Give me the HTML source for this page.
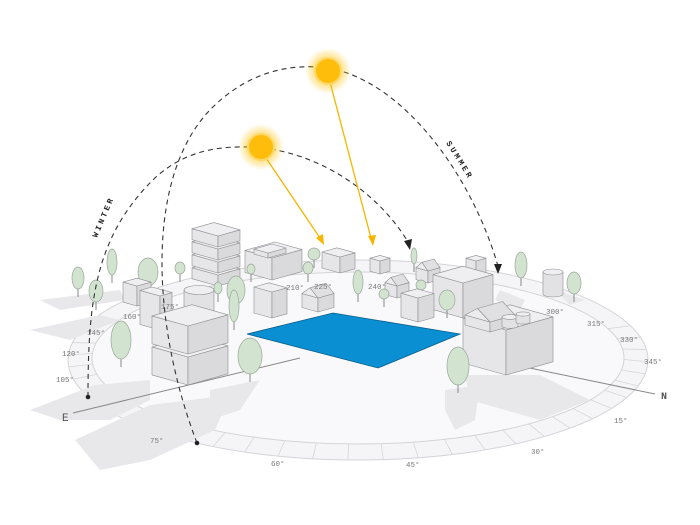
<!DOCTYPE html>
<html><head><meta charset="utf-8"><style>
html,body{margin:0;padding:0;background:#fff;}
svg{display:block;}
text{font-family:"Liberation Mono",monospace;}
</style></head><body>
<svg id="s" width="700" height="525" viewBox="0 0 700 525" xmlns="http://www.w3.org/2000/svg">
<defs>
<radialGradient id="glow"><stop offset="0.55" stop-color="#ffc107" stop-opacity="0.5"/><stop offset="1" stop-color="#ffc107" stop-opacity="0"/></radialGradient>
</defs>
<ellipse cx="358" cy="360" rx="290" ry="100" fill="#f5f5f7" stroke="#d4d4d8" stroke-width="1"/>
<ellipse cx="358" cy="358" rx="266" ry="86" fill="#f9f9fb" stroke="#d4d4d8" stroke-width="1"/>
<g id="ticks" stroke="#d6d6da" stroke-width="0.8"></g>
<g fill="#e8e8eb">
<polygon points="30,410 95,385 150,380 150,400 110,420 60,420"/>
<polygon points="75,440 150,405 230,395 215,430 150,460 100,470"/>
<polygon points="210,390 260,380 240,410 210,420"/>
<polygon points="465,375 540,375 590,400 540,420 470,400"/>
<polygon points="445,390 480,385 475,420 455,430 445,410"/>
<polygon points="40,300 120,290 125,300 60,310"/>
<polygon points="30,330 100,315 120,320 70,340"/>
<polygon points="500,290 525,300 520,310 495,300"/>
<polygon points="555,290 585,300 570,305"/>
</g>
<polyline points="73,413 300,358" fill="none" stroke="#888" stroke-width="1"/>
<polyline points="520,366 655,394" fill="none" stroke="#888" stroke-width="1"/>
<text x="62" y="421" font-size="11" fill="#555">E</text>
<text x="661" y="399" font-size="10" fill="#555" font-weight="bold">N</text>
<polygon points="247,334 333,313 460,334 378,368" fill="#0a8fd2" stroke="#0b5e8a" stroke-width="0.8"/>
<g id="bld"></g>
<g font-size="7.5" fill="#777">
<text x="150" y="443">75°</text><text x="271" y="466">60°</text><text x="406" y="467">45°</text>
<text x="531" y="454">30°</text><text x="614" y="423">15°</text><text x="644" y="364">345°</text>
<text x="620" y="342">330°</text><text x="587" y="326">315°</text><text x="546" y="314">300°</text>
<text x="368" y="289">240°</text><text x="314" y="289">225°</text><text x="286" y="290">210°</text>
<text x="161" y="309">175°</text><text x="123" y="319">160°</text><text x="87" y="335">145°</text>
<text x="62" y="356">120°</text><text x="56" y="382">105°</text>
</g>
<g fill="none" stroke="#333" stroke-width="1.1" stroke-dasharray="5,4">
<path d="M197,443 C150,320 145,170 215,105 C250,72 290,63 328,68 C400,80 470,170 498,266"/>
<path d="M88,397 C88,300 95,235 157,176 C185,152 215,146 250,147 C320,150 380,195 408,242"/>
</g>
<polygon points="498,274 494,264 502,264" fill="#222"/>
<polygon points="410,250 404,241 412,239" fill="#222"/>
<circle cx="88" cy="397" r="2.3" fill="#222"/><circle cx="197" cy="443" r="2.3" fill="#222"/>
<g stroke="#f7b500" stroke-width="1.3" fill="#f7b500">
<line x1="330" y1="82" x2="372" y2="242"/><polygon points="373,246 368,236 376,235" stroke="none"/>
<line x1="266" y1="158" x2="322" y2="241"/><polygon points="324,245 316,238 323,234" stroke="none"/>
</g>
<circle cx="328" cy="71" r="23" fill="url(#glow)"/><circle cx="328" cy="71" r="13" fill="#fdbd0a" stroke="#ffd86a" stroke-width="2"/>
<circle cx="261" cy="147" r="23" fill="url(#glow)"/><circle cx="261" cy="147" r="13" fill="#fdbd0a" stroke="#ffd86a" stroke-width="2"/>
<text font-size="8" font-weight="bold" fill="#222" letter-spacing="2.5" transform="translate(97,238) rotate(-67)" font-family="Liberation Sans,sans-serif">WINTER</text>
<text font-size="8" font-weight="bold" fill="#222" letter-spacing="2.5" transform="translate(446,143) rotate(58)" font-family="Liberation Sans,sans-serif">SUMMER</text>
</svg>
<script>
var NS="http://www.w3.org/2000/svg",g=document.getElementById('bld'),tk=document.getElementById('ticks');
function el(t,a,p){var e=document.createElementNS(NS,t);for(var k in a)e.setAttribute(k,a[k]);(p||g).appendChild(e);return e;}
for(var d=-20;d<=200;d+=7){var t=d*Math.PI/180;el('line',{x1:358+290*Math.cos(t),y1:360+100*Math.sin(t),x2:358+266*Math.cos(t),y2:358+86*Math.sin(t)},tk);}
var ST={stroke:'#8e8e93','stroke-width':0.6,'stroke-linejoin':'round'};
function P(a){return a.map(function(p){return p[0].toFixed(1)+','+p[1].toFixed(1)}).join(' ');}
function box(x,y,a,b,h){var L=[x-a,y-a*0.28],R=[x+b,y-b*0.28];
 el('polygon',Object.assign({points:P([[x,y],L,[L[0],L[1]-h],[x,y-h]]),fill:'#e6e6e8'},ST));
 el('polygon',Object.assign({points:P([[x,y],R,[R[0],R[1]-h],[x,y-h]]),fill:'#dadadd'},ST));
 el('polygon',Object.assign({points:P([[x,y-h],[L[0],L[1]-h],[L[0]+b,L[1]-b*0.28-h],[R[0],R[1]-h]]),fill:'#efeff1'},ST));}
function house(x,y,a,b,h,r){box(x,y,a,b,h);var L=[x-a,y-a*0.28-h],R=[x+b,y-b*0.28-h];
 el('polygon',Object.assign({points:P([L,[x-a/2,y-a*0.14-h-r],[x,y-h]]),fill:'#ececee'},ST));
 el('polygon',Object.assign({points:P([[x-a/2,y-a*0.14-h-r],[x-a/2+b,y-a*0.14-b*0.28-h-r],R,[x,y-h]]),fill:'#e0e0e3'},ST));}
function cyl(cx,top,bot,rx){var ry=rx*0.3;
 el('path',Object.assign({d:'M'+(cx-rx)+','+top+' L'+(cx-rx)+','+bot+' A'+rx+','+ry+' 0 0 0 '+(cx+rx)+','+bot+' L'+(cx+rx)+','+top+' Z',fill:'#e2e2e5'},ST));
 el('ellipse',Object.assign({cx:cx,cy:top,rx:rx,ry:ry,fill:'#efeff1'},ST));}
function tree(x,b,rx,ry){el('line',{x1:x,y1:b,x2:x,y2:b-10,stroke:'#888','stroke-width':1});
 el('ellipse',{cx:x,cy:b-8-ry,rx:rx,ry:ry,fill:'#d2e3cf',stroke:'#9aa89a','stroke-width':0.7});}
box(340,273,18,15,16);box(380,274,10,10,13);box(476,276,10,10,15);cyl(553,272,294,10);
tree(521,286,6,13);tree(574,302,7,11);tree(414,272,3,8);
box(272,280,27,30,22);box(268,258,14,18,5);
for(var i=0;i<4;i++)box(218,286-i*13,26,22,11);
tree(314,268,6,6);tree(308,282,5,6);tree(251,282,4,5);tree(180,282,5,6);
tree(78,297,6,11);tree(112,283,5,13);tree(148,294,10,14);
box(137,306,14,14,20);tree(96,310,7,11);
house(397,298,12,12,12,7);house(428,283,12,12,12,7);tree(384,307,5,5);tree(358,302,5,12);tree(421,298,5,5);
box(463,318,30,30,35);box(418,322,17,16,24);
cyl(199,290,315,15);tree(218,302,4,6);
box(272,318,18,15,26);house(318,312,16,16,14,8);
tree(236,312,9,14);tree(234,330,5,16);
box(160,330,20,12,34);
box(188,385,36,40,28);box(188,354,36,40,28);
tree(121,367,10,19);tree(250,382,12,18);tree(447,318,8,10);
box(506,375,43,47,45);house(490,332,25,25,10,10);
cyl(510,317,326,8);cyl(523,314,322,7);
tree(458,393,11,19);
</script>
</body></html>
